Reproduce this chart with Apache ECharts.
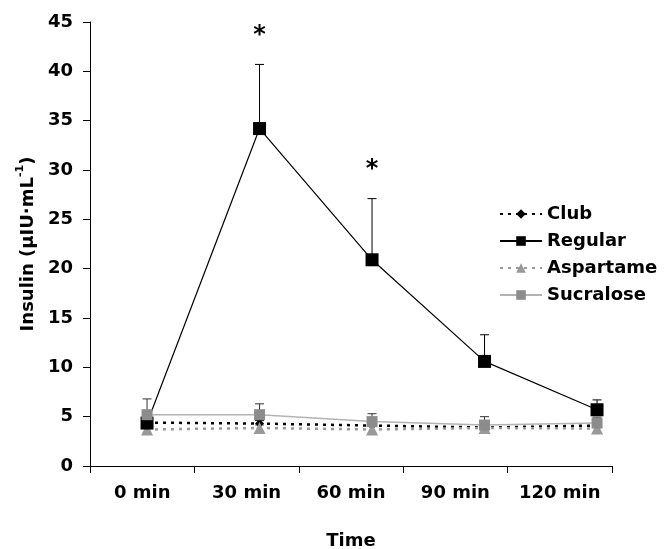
<!DOCTYPE html>
<html>
<head>
<meta charset="utf-8">
<script src="https://cdn.jsdelivr.net/npm/echarts@6/dist/echarts.min.js"></script>
<style>html,body{margin:0;padding:0;background:#fff;}#c{width:665px;height:549px;}</style>
</head>
<body>
<div id="c"></div>
<script>
var categories = ['0 min', '30 min', '60 min', '90 min', '120 min'];
var yTicks = [0, 5, 10, 15, 20, 25, 30, 35, 40, 45];
var club = [4.4, 4.3, 4.1, 3.9, 4.1];
var regular = [4.35, 34.2, 20.9, 10.6, 5.7];
var aspartame = [3.7, 3.85, 3.7, 3.85, 3.8];
var sucralose = [5.2, 5.2, 4.5, 4.15, 4.35];
var regularErr = [0.4, 6.5, 6.2, 2.7, 1.0];
var sucraloseErr = [1.6, 1.1, 0.8, 0.85, 0.6];
var clubErr = [0.3, 0.3, 0.3, 0.3, 0.3];
var aspartameErr = [0.3, 0.3, 0.3, 0.3, 0.3];
var significance = ['', '*', '*', '', ''];

var FONT = 'DejaVu Sans';
function pts(arr) { return arr.map(function (v, i) { return [i, v]; }); }
function errData(mean, err) { return mean.map(function (v, i) { return [i, v, err[i]]; }); }
function errSeries(mean, err, color) {
  return {
    type: 'custom', xAxisIndex: 1, yAxisIndex: 0, z: 1, silent: true,
    data: errData(mean, err),
    renderItem: function (params, api) {
      var base = api.coord([api.value(0), api.value(1)]);
      var top = api.coord([api.value(0), api.value(1) + api.value(2)]);
      var hw = 4.5;
      return {
        type: 'group',
        children: [
          { type: 'line', shape: { x1: base[0], y1: base[1], x2: top[0], y2: top[1] }, style: { stroke: color, lineWidth: 1 } },
          { type: 'line', shape: { x1: top[0] - hw, y1: top[1], x2: top[0] + hw, y2: top[1] }, style: { stroke: color, lineWidth: 1 } }
        ]
      };
    }
  };
}

var chart = echarts.init(document.getElementById('c'), null, { renderer: 'canvas' });
var option = {
  animation: false,
  backgroundColor: '#fff',
  textStyle: { fontFamily: FONT },
  grid: { left: 90, right: 53, top: 22, bottom: 83, containLabel: false, outerBoundsMode: 'none' },
  legend: {
    left: 494, top: 200, orient: 'vertical',
    itemWidth: 42, itemHeight: 12, itemGap: 9,
    textStyle: { fontFamily: FONT, fontWeight: 'bold', fontSize: 18, color: '#000', lineHeight: 18 },
    data: ['Club', 'Regular', 'Aspartame', 'Sucralose']
  },
  xAxis: [{
    type: 'category', data: categories, boundaryGap: true,
    axisLine: { onZero: false, lineStyle: { color: '#000', width: 1 } },
    axisTick: { show: true, length: 7, inside: false, interval: 0, lineStyle: { color: '#000' } },
    axisLabel: { interval: 0, fontFamily: FONT, fontWeight: 'bold', fontSize: 18, color: '#000', margin: 18 },
    splitLine: { show: false },
    name: 'Time', nameLocation: 'middle', nameGap: 66,
    nameTextStyle: { fontFamily: FONT, fontWeight: 'bold', fontSize: 18, color: '#000', verticalAlign: 'top' }
  }, {
    type: 'value', show: false, min: -0.507, max: 4.133
  }],
  yAxis: {
    type: 'value', min: 0, max: 45, interval: 5,
    axisLine: { show: true, onZero: false, lineStyle: { color: '#000', width: 1 } },
    axisTick: { show: true, length: 7, lineStyle: { color: '#000' } },
    axisLabel: { fontFamily: FONT, fontWeight: 'bold', fontSize: 18, color: '#000', margin: 17,
      formatter: function (v) { return yTicks.indexOf(v) >= 0 ? String(v) : ''; } },
    splitLine: { show: false },
    name: '{a|Insulin (µIU·mL}{s|-1}{a|)}', nameLocation: 'middle', nameGap: 52, nameRotate: 90,
    nameTextStyle: {
      fontFamily: FONT, fontWeight: 'bold', fontSize: 18, color: '#000',
      rich: {
        a: { fontFamily: FONT, fontWeight: 'bold', fontSize: 18, color: '#000', lineHeight: 22, verticalAlign: 'bottom' },
        s: { fontFamily: FONT, fontWeight: 'bold', fontSize: 11, color: '#000', lineHeight: 22, verticalAlign: 'top' }
      }
    }
  },
  series: [
    errSeries(club, clubErr, '#000'),
    errSeries(aspartame, aspartameErr, '#666'),
    errSeries(sucralose, sucraloseErr, '#333'),
    errSeries(regular, regularErr, '#000'),
    {
      name: 'Club', type: 'line', xAxisIndex: 1, data: pts(club), z: 3,
      symbol: 'diamond', symbolSize: 9, itemStyle: { color: '#000' },
      lineStyle: { color: '#000', width: 2.5, type: [3, 5] }
    },
    {
      name: 'Regular', type: 'line', xAxisIndex: 1, data: pts(regular), z: 4,
      symbol: 'rect', symbolSize: 13, itemStyle: { color: '#000' },
      lineStyle: { color: '#000', width: 1.2, type: 'solid' }
    },
    {
      name: 'Aspartame', type: 'line', xAxisIndex: 1, data: pts(aspartame), z: 3,
      symbol: 'triangle', symbolSize: 12, itemStyle: { color: '#999' },
      lineStyle: { color: '#999', width: 2.5, type: [3, 5] }
    },
    {
      name: 'Sucralose', type: 'line', xAxisIndex: 1, data: pts(sucralose), z: 5,
      symbol: 'rect', symbolSize: 11, itemStyle: { color: '#8c8c8c' },
      lineStyle: { color: '#b3b3b3', width: 1.5, type: 'solid' }
    },
    {
      type: 'custom', xAxisIndex: 1, yAxisIndex: 0, z: 6, silent: true,
      data: regular.map(function (v, i) { return [i, v + regularErr[i], significance[i]]; }),
      renderItem: function (params, api) {
        var idx = params.dataIndex;
        if (!significance[idx]) return null;
        var p = api.coord([api.value(0), api.value(1)]);
        return {
          type: 'text',
          style: { x: p[0], y: p[1] - 29, text: significance[idx], fill: '#000',
            font: 'bold 24px ' + FONT, align: 'center', verticalAlign: 'middle' }
        };
      }
    }
  ]
};
chart.setOption(option);
</script>
</body>
</html>
